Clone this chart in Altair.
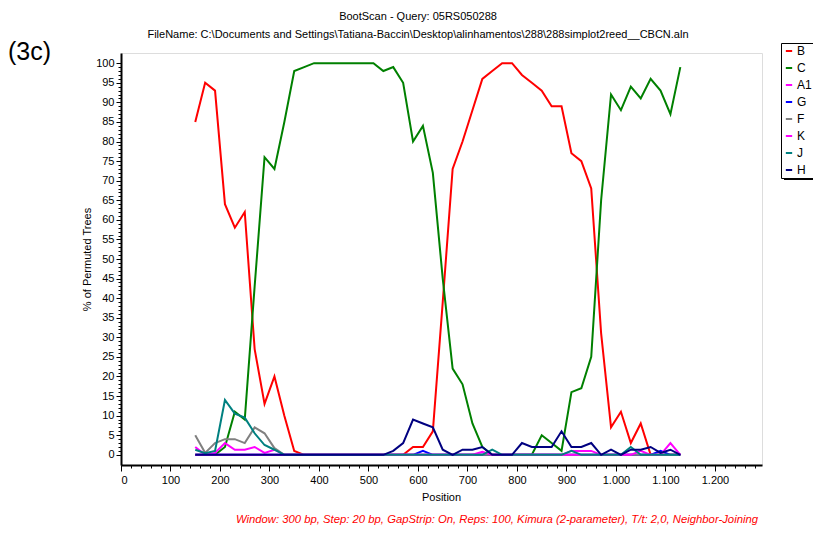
import altair as alt
import pandas as pd

positions = [150, 170, 190, 210, 230, 250, 270, 290, 310, 330,
             350, 370, 390, 410, 430, 450, 470, 490, 510, 530,
             550, 570, 590, 610, 630, 650, 670, 690, 710, 730,
             750, 770, 790, 810, 830, 850, 870, 890, 910, 930,
             950, 970, 990, 1010, 1030, 1050, 1070, 1090, 1110, 1130]

B = [85, 95, 93, 64, 58, 62, 27, 13, 20, 10,
     1, 0, 0, 0, 0, 0, 0, 0, 0, 0,
     0, 0, 2, 2, 6, 39, 73, 80, 88, 96,
     98, 100, 100, 97, 95, 93, 89, 89, 77, 75,
     68, 31, 7, 11, 3, 8, 0, 0, 0, 0]
C = [0, 0, 0, 2, 11, 9, 43, 76, 73, 85,
     98, 99, 100, 100, 100, 100, 100, 100, 100, 98,
     99, 95, 80, 84, 72, 45, 22, 18, 8, 2,
     0, 0, 0, 0, 0, 5, 3, 1, 16, 17,
     25, 65, 92, 88, 94, 91, 96, 93, 87, 99]
A1 = [2, 0, 0.5, 3, 1.3, 1.3, 2, 0.5, 1.3, 0,
      0, 0, 0, 0, 0, 0, 0, 0, 0, 0,
      0, 0, 0, 0, 0, 0, 0, 0, 0, 0,
      0, 0, 0, 0, 0, 0, 0, 0, 1, 1,
      1, 0, 0, 0, 0, 0, 0, 0, 0, 0]
G = [0, 0, 0, 0, 0, 0, 0, 0, 0, 0,
     0, 0, 0, 0, 0, 0, 0, 0, 0, 0,
     0, 0, 0, 1, 0, 0, 0, 0, 0, 0,
     0, 0, 0, 0, 0, 0, 0, 0, 0, 0,
     0, 0, 0, 0, 0, 0, 0, 1, 0, 0]
F = [5, 0.5, 3, 4, 4, 3, 7, 5.5, 1.7, 0,
     0, 0, 0, 0, 0, 0, 0, 0, 0, 0,
     0, 0, 0, 0, 0, 0, 0, 0, 0, 0,
     0, 0, 0, 0, 0, 0, 0, 0, 0, 0,
     0, 0, 0, 0, 0, 0, 0, 0, 0, 0]
K = [0, 0, 0, 0, 0, 0, 0, 0, 0, 0,
     0, 0, 0, 0, 0, 0, 0, 0, 0, 0,
     0, 0, 0, 0, 0, 0, 0, 0, 0, 0.8,
     0, 0, 0, 0, 0, 0, 0, 0, 0, 0,
     0, 0, 0, 0, 0, 1, 0, 0, 3, 0]
J = [1.3, 0.4, 1, 14, 10.5, 9.5, 5.5, 2.5, 1.3, 0,
     0, 0, 0, 0, 0, 0, 0, 0, 0, 0,
     0, 0, 0, 0, 0, 0, 0, 0, 0, 0,
     1.3, 0, 0, 0, 0, 0, 0, 0, 1, 0,
     0, 0, 0, 0, 2, 0, 0, 0, 0, 0]
H = [0, 0, 0, 0, 0, 0, 0, 0, 0, 0,
     0, 0, 0, 0, 0, 0, 0, 0, 0, 0,
     1, 3, 9, 8, 7, 1.3, 0, 1.3, 1.3, 2,
     0, 0, 0, 3, 2, 2, 2, 6, 2, 2,
     3, 0, 1.3, 0, 1.3, 1.3, 2, 0.5, 1.3, 0]

series_names = ["B", "C", "A1", "G", "F", "K", "J", "H"]
series_colors = ["#FF0000", "#008000", "#FF00FF", "#0000FF", "#808080", "#FF00FF", "#008080", "#000080"]
series_values = [B, C, A1, G, F, K, J, H]

x_major = [0, 100, 200, 300, 400, 500, 600, 700, 800, 900, 1000, 1100, 1200]
x_minor = list(range(0, 1281, 20))
y_major = list(range(0, 101, 5))
y_minor = list(range(0, 101, 1))

title1 = "BootScan - Query: 05RS050288"
title2 = "FileName: C:\\Documents and Settings\\Tatiana-Baccin\\Desktop\\alinhamentos\\288\\288simplot2reed__CBCN.aln"
footer = "Window: 300 bp, Step: 20 bp, GapStrip: On, Reps: 100, Kimura (2-parameter), T/t: 2,0, Neighbor-Joining"
panel_label = "(3c)"

rows = []
for name, vals in zip(series_names, series_values):
    for p, v in zip(positions, vals):
        rows.append({"pos": p, "val": v, "series": name})
df = pd.DataFrame(rows)

FONT = "Liberation Sans"
W, H_ = 641, 412
xs = alt.Scale(domain=[0, 1295], nice=False, zero=False)
ys = alt.Scale(domain=[-2.6, 102.6], nice=False, zero=False)

lines = alt.Chart(df).mark_line(strokeWidth=2).encode(
    x=alt.X("pos:Q", scale=xs, axis=alt.Axis(
        values=x_major, title="Position", tickSize=6, labelPadding=3,
        labelExpr="replace(format(datum.value, ','), ',', '.')",
        labelFontSize=11, titleFontSize=11, titleFontWeight="normal",
        titleX=320, titleY=32, titleBaseline="middle", grid=False,
        domainColor="black", domainWidth=2, tickColor="black", labelColor="black",
        titleColor="black", labelFont=FONT, titleFont=FONT)),
    y=alt.Y("val:Q", scale=ys, axis=alt.Axis(
        values=y_major, title="% of Permuted Trees", tickSize=5, labelPadding=2,
        labelFontSize=11, titleFontSize=11, titleFontWeight="normal",
        titleX=-34, titleY=206, titleAngle=270, titleAlign="center", titleBaseline="middle",
        grid=False, domainColor="black", domainWidth=2, tickColor="black",
        labelColor="black", titleColor="black", labelFont=FONT, titleFont=FONT)),
    color=alt.Color("series:N", scale=alt.Scale(domain=series_names, range=series_colors),
                    legend=alt.Legend(title=None, orient="none", legendX=660, legendY=-10,
                                      strokeColor="black", fillColor="white", padding=2,
                                      symbolType="stroke", symbolSize=40, symbolStrokeWidth=2,
                                      labelFontSize=12, labelFont=FONT, labelColor="black",
                                      rowPadding=5, symbolOffset=0, labelOffset=2, labelLimit=40)),
    order=alt.Order("pos:Q"),
)

minor = alt.Chart(df).mark_point(opacity=0).encode(
    x=alt.X("pos:Q", scale=xs, axis=alt.Axis(values=x_minor, labels=False, tickSize=3, domain=False,
                                            orient="bottom", title=None, grid=False, tickColor="black")),
    y=alt.Y("val:Q", scale=ys, axis=alt.Axis(values=y_minor, labels=False, tickSize=3, domain=False,
                                            orient="left", title=None, grid=False, tickColor="black")),
)

one = alt.Data(values=[{"a": 1}])

shadow = alt.Chart(one).mark_rect(color="black").encode(
    x=alt.value(663), x2=alt.value(694), y=alt.value(-7), y2=alt.value(127))

t1 = alt.Chart(one).mark_text(fontSize=11, font=FONT, color="black", align="center", baseline="middle").encode(
    x=alt.value(297), y=alt.value(-36), text=alt.value(title1))
t2 = alt.Chart(one).mark_text(fontSize=11, font=FONT, color="black", align="center", baseline="middle").encode(
    x=alt.value(297), y=alt.value(-18), text=alt.value(title2))
t3 = alt.Chart(one).mark_text(fontSize=25, font=FONT, color="black", align="left", baseline="middle").encode(
    x=alt.value(-113), y=alt.value(-1), text=alt.value(panel_label))
t4 = alt.Chart(one).mark_text(fontSize=11.3, font=FONT, color="#FF0000", fontStyle="italic",
                              align="right", baseline="middle").encode(
    x=alt.value(637), y=alt.value(467), text=alt.value(footer))

chart = alt.layer(shadow, lines, minor, t1, t2, t3, t4).resolve_scale(
    x="independent", y="independent").resolve_axis(x="independent", y="independent").properties(
    width=W, height=H_, autosize=alt.AutoSizeParams(type="none"),
    padding={"left": 113, "top": 45, "right": 51, "bottom": 60},
).configure_view(stroke="black", strokeWidth=1).configure(background="white")

chart.save("out.html", embed_options={"renderer": "svg", "actions": False})
